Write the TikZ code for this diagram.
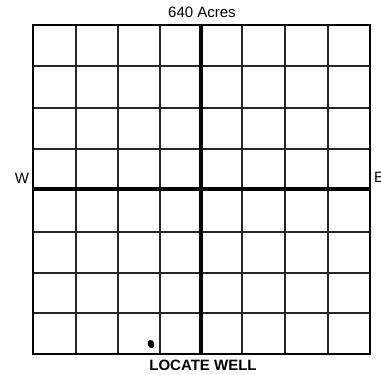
\documentclass[tikz,border=0pt]{standalone}
\usepackage{fontspec}
\setmainfont{Liberation Sans}
\begin{document}
\begin{tikzpicture}[x=1pt,y=-1pt,
  thin grid/.style={line width=1.2pt,black!85},
  lbl/.style={font=\fontsize{15}{15}\selectfont,inner sep=0pt}]
\useasboundingbox (0,0) rectangle (381,375);
\fill[white] (0,0) rectangle (381,375);
% grid
\foreach \x in {76,118,160,242,285,328}
  \draw[thin grid] (\x,25) -- (\x,354);
\foreach \y in {66,108,149,232,273,313}
  \draw[thin grid] (33,\y) -- (370,\y);
\draw[line width=4pt] (201,25) -- (201,354);
\draw[line width=4pt] (33,189) -- (370,189);
\draw[line width=2pt] (33,25) rectangle (370,354);
% labels
\node[lbl] (acres) at (202,12) {640 Acres};
\node[lbl] (w) at (22,178) {W};
\node[lbl,anchor=west] (e) at (374,177) {E};
\node[lbl,font=\fontsize{15}{15}\selectfont\bfseries] (well) at (203,365) {LOCATE WELL};
% well dot
\fill[rotate around={20:(151,344)}] (151,344) ellipse (3.3 and 4.2);
\end{tikzpicture}
\end{document}
